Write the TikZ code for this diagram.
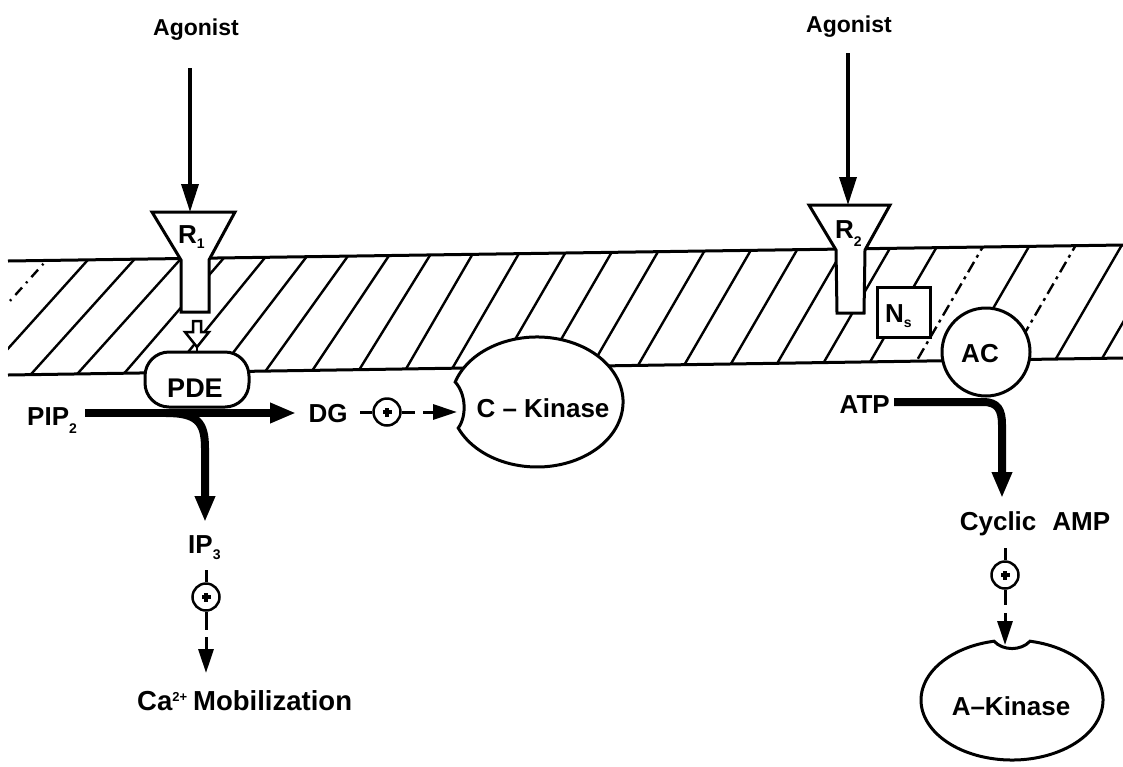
\documentclass[tikz,border=0pt]{standalone}
\usepackage{fontspec}
\setmainfont{Liberation Sans}
\usetikzlibrary{arrows.meta,calc}
\newcommand\lowsub[2]{\raisebox{-#1pt}{\fontsize{14}{14}\selectfont #2}}
\tikzset{
 lbl/.style={font=\fontsize{26}{26}\selectfont\bfseries, inner sep=0pt},
 agl/.style={font=\fontsize{23}{23}\selectfont\bfseries, inner sep=0pt},
 outl/.style={line width=3pt, draw=black, fill=white},
 memb/.style={line width=3pt},
 hatch/.style={line width=2.4pt},
 agarrow/.style={line width=3.5pt, -{Triangle[length=28pt,width=17pt]}},
 fatarrow/.style={line width=8pt, -{Triangle[length=26pt,width=19pt]}},
 dline/.style={line width=3pt},
 darrow/.style={line width=3pt, -{Triangle[length=24pt,width=15pt]}},
 plusc/.style={circle, draw, line width=2.5pt, minimum size=27pt, inner sep=0pt, fill=white,
   path picture={\fill[black] (path picture bounding box.center) ++(-4.5,-1.6) rectangle ++(9,3.2);
                 \fill[black] (path picture bounding box.center) ++(-1.6,-4.5) rectangle ++(3.2,9);}},
}
\begin{document}
\begin{tikzpicture}[x=1pt,y=-1pt]
\fill[white] (0,0) rectangle (1123,766);
\useasboundingbox (0,0) rectangle (1123,766);

% hatching of the membrane
\begin{scope}
\clip (8,261) -- (1123,245) -- (1123,358) -- (8,375) -- cycle;
\foreach \X in {-4,42,...,1200} {
  \pgfmathsetmacro\s{(\X<100) ? 0.9 : ((\X>400) ? 0.58 : (0.9-0.32*(\X-100)/300))}
  \pgfmathtruncatemacro\isdash{(\X==916 || \X==1008) ? 1 : 0}
  \ifnum\isdash=1
    \draw[hatch, dash pattern=on 12pt off 5pt on 3pt off 5pt] ({\X-\s*40},402) -- ({\X+\s*132},230);
  \else
    \draw[hatch] ({\X-\s*40},402) -- ({\X+\s*132},230);
  \fi
}
\draw[hatch, dash pattern=on 10pt off 6pt on 2pt off 6pt] ({-45-0.9*40},402) -- ({-45+0.9*132},230);
\end{scope}
\draw[memb] (8,261) -- (1123,245);
\draw[memb] (8,375) -- (1123,358);

% receptors
\draw[outl] (152,212) -- (235,212) -- (209,260) -- (209,312) -- (181,312) -- (181,260) -- cycle;
\draw[outl] (809,205) -- (890,205) -- (865,250) -- (864,313) -- (837,313) -- (836,250) -- cycle;
\coordinate (r1top) at (190,212);
\coordinate (r2top) at (848,205);

% PDE, Ns, AC
\node[outl, rounded corners=24pt, minimum width=104pt, minimum height=55pt, inner sep=0pt] (PDE) at (197,379.5) {};
\draw[outl, line width=2.5pt] (193,321) -- (201,321) -- (201,332) -- (209,332) -- (197,347) -- (185,332) -- (193,332) -- cycle;
\coordinate (hatip) at (197,347);
\draw[line width=2.5pt] (hatip) -- (PDE.north);
\node[outl, minimum width=53pt, minimum height=50pt, inner sep=0pt] (Ns) at (903.5,312) {};
\node[outl, circle, minimum size=88pt, inner sep=0pt] (AC) at (986,352) {};

% C-Kinase and A-Kinase
\draw[outl] (455.2,382) arc[start angle=197.9, end angle=516.4, x radius=86, y radius=65]
   .. controls (467,416) and (466,394) .. (455.2,382) -- cycle;
\draw[outl] (1030,641.2) arc[start angle=281.4, end angle=618.6, x radius=91, y radius=60]
   .. controls (1003,651) and (1021,651) .. (1030,641.2) -- cycle;
\coordinate (ckn) at (457,412);
\coordinate (akn) at (1005,645);

% labels
\node[agl, anchor=base] (ag1) at (196,35) {Agonist};
\node[agl, anchor=base] (ag2) at (849,32) {Agonist};
\node[lbl, anchor=base west] (R1) at (178,243) {R\lowsub{5}{1}};
\node[lbl, anchor=base west] (R2) at (835,238) {R\lowsub{8}{2}};
\node[lbl, font=\fontsize{27}{27}\selectfont\bfseries, anchor=base] (PDEt) at (195,397) {PDE};
\node[lbl, anchor=base west] (PIP) at (27,425) {PIP\lowsub{8}{2}};
\node[lbl, anchor=base] (DG) at (328,422) {DG};
\node[lbl, anchor=base] (CK) at (543,417) {C – Kinase};
\node[lbl, anchor=base west] (IP3) at (188,553) {IP\lowsub{6}{3}};
\node[lbl, font=\fontsize{27.5}{27.5}\selectfont\bfseries, anchor=base west] (Ca) at (137,710) {Ca\raisebox{9pt}{\fontsize{13}{13}\selectfont 2+}\hspace{6pt}Mobilization};
\node[lbl, anchor=base east] (ATP) at (890,413) {ATP};
\node[lbl, anchor=base] (cAMP) at (1035,530) {Cyclic\hspace{16pt}AMP};
\node[lbl, anchor=base] (AKt) at (1011,715) {A–Kinase};
\node[lbl, anchor=base west] (Nst) at (885,322) {N\lowsub{5}{s}};
\node[lbl, anchor=base] (ACt) at (980,362) {AC};

% plus circles
\node[plusc] (p1) at (387,412) {};
\node[plusc] (p2) at (206,597) {};
\node[plusc] (p3) at (1005,575) {};

% agonist arrows
\coordinate (a1s) at (190,68);
\coordinate (a2s) at (848,53);
\draw[agarrow] (a1s) -- (r1top);
\draw[agarrow] (a2s) -- (r2top);

% PIP2 -> DG and IP3
\coordinate (pipS) at (85,413);
\coordinate (dgW) at (296,413);
\draw[fatarrow] (pipS) -- (dgW);
\coordinate (brS) at (166,413);
\coordinate (ipN) at (205,522);
\draw[fatarrow] (brS) .. controls (197,413) and (205,422) .. (205,448) -- (ipN);

% DG -> C-Kinase
\coordinate (dg1) at (360,412);
\coordinate (dg2) at (415,412);
\coordinate (dg3) at (423,412);
\draw[dline] (dg1) -- (p1);
\draw[dline] (p1) -- (dg2);
\draw[darrow] (dg3) -- (ckn);

% IP3 -> Ca
\coordinate (ip1) at (206,570);
\coordinate (ip2) at (206,630);
\coordinate (ip3) at (206,637);
\coordinate (caN) at (206,673);
\draw[dline] (ip1) -- (p2);
\draw[dline] (p2) -- (ip2);
\draw[darrow] (ip3) -- (caN);

% ATP -> cAMP
\coordinate (atpE) at (894,402);
\coordinate (campN) at (1002,498);
\draw[fatarrow] (atpE) -- (983,402) .. controls (998,402) and (1002,410) .. (1002,425) -- (campN);

% cAMP -> A-Kinase
\coordinate (cm1) at (1005,548);
\coordinate (cm2) at (1005,605);
\coordinate (cm3) at (1005,613);
\draw[dline] (cm1) -- (p3);
\draw[dline] (p3) -- (cm2);
\draw[darrow] (cm3) -- (akn);
\end{tikzpicture}
\end{document}
